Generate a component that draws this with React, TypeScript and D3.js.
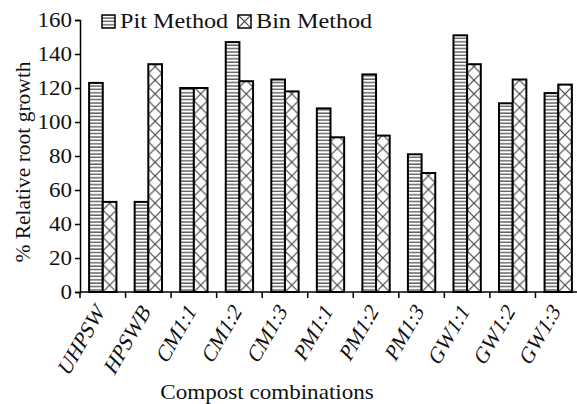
import { useEffect, useRef } from "react";
import * as d3 from "d3";

const categories = ["UHPSW", "HPSWB", "CM1:1", "CM1:2", "CM1:3", "PM1:1", "PM1:2", "PM1:3", "GW1:1", "GW1:2", "GW1:3"];
const pitMethod = [123, 53, 120, 147, 125, 108, 128, 81, 151, 111, 117];
const binMethod = [53, 134, 120, 124, 118, 91, 92, 70, 134, 125, 122];
const seriesNames = ["Pit Method", "Bin Method"];
const yTicks = [0, 20, 40, 60, 80, 100, 120, 140, 160];

const App = () => {
  const svgRef = useRef<SVGSVGElement | null>(null);

  useEffect(() => {
    const svg = d3.select(svgRef.current);
    svg.selectAll("*").remove();

    const width = 577;
    const height = 404;
    const left = 80;
    const right = 581;
    const top = 20;
    const bottom = 292;
    const font = "'Liberation Serif', 'Times New Roman', serif";
    const stretch = 1.15; // the picture is a little wider than tall

    const x = d3.scaleBand().domain(categories).range([left, right]).paddingInner(0.4).paddingOuter(0.2);
    const xSub = d3.scaleBand().domain(seriesNames).range([0, x.bandwidth()]);
    const y = d3.scaleLinear().domain([0, 160]).range([bottom, top]);

    svg.attr("width", width).attr("height", height);
    const defs = svg.append("defs");

    // horizontal lines pattern for Pit
    const hp = defs.append("pattern").attr("id", "hlines")
      .attr("patternUnits", "userSpaceOnUse").attr("width", 6).attr("height", 3.4);
    hp.append("rect").attr("width", 6).attr("height", 3.4).attr("fill", "#fff");
    hp.append("line").attr("x1", 0).attr("x2", 6).attr("y1", 1).attr("y2", 1)
      .attr("stroke", "#5e5e5e").attr("stroke-width", 1.4);

    // cross hatch pattern for Bin, one per bar so it lines up with the bar
    const rows = categories.map((c, i) => ({ c, pit: pitMethod[i], bin: binMethod[i] }));
    rows.forEach((d, i) => {
      const bx = (x(d.c) as number) + (xSub("Bin Method") as number);
      const w = xSub.bandwidth();
      const p = defs.append("pattern").attr("id", `xh${i}`)
        .attr("patternUnits", "userSpaceOnUse")
        .attr("x", bx).attr("y", bottom)
        .attr("width", w).attr("height", w);
      p.append("rect").attr("width", w).attr("height", w).attr("fill", "#fff");
      p.append("path").attr("d", `M0,0L${w},${w}M${w},0L0,${w}`)
        .attr("stroke", "#444").attr("stroke-width", 1.2).attr("fill", "none");
    });

    // bars
    const g = svg.append("g");
    rows.forEach((d, i) => {
      const gx = x(d.c) as number;
      g.append("rect")
        .attr("x", gx + (xSub("Pit Method") as number))
        .attr("y", y(d.pit))
        .attr("width", xSub.bandwidth())
        .attr("height", y(0) - y(d.pit))
        .attr("fill", "url(#hlines)")
        .attr("stroke", "#000").attr("stroke-width", 2);
      g.append("rect")
        .attr("x", gx + (xSub("Bin Method") as number))
        .attr("y", y(d.bin))
        .attr("width", xSub.bandwidth())
        .attr("height", y(0) - y(d.bin))
        .attr("fill", `url(#xh${i})`)
        .attr("stroke", "#000").attr("stroke-width", 2);
    });

    // y axis
    const yAxis = svg.append("g")
      .attr("transform", `translate(${left},0)`)
      .call(d3.axisLeft(y).tickValues(yTicks).tickSize(5).tickFormat(() => ""));
    yAxis.select(".domain").attr("stroke", "#000").attr("stroke-width", 1.5);
    yAxis.selectAll(".tick line").attr("stroke", "#000").attr("stroke-width", 1.5);
    yTicks.forEach((t) => {
      svg.append("text")
        .attr("transform", `translate(${left - 8},${y(t) + 7}) scale(${stretch},1)`)
        .attr("text-anchor", "end")
        .attr("font-family", font).attr("font-size", 20).attr("fill", "#111")
        .text(t);
    });

    // x axis with ticks at band boundaries
    svg.append("line").attr("x1", left).attr("x2", right).attr("y1", bottom).attr("y2", bottom)
      .attr("stroke", "#000").attr("stroke-width", 1.5);
    const step = x.step();
    categories.forEach((c, i) => {
      const tx = left + i * step;
      svg.append("line").attr("x1", tx).attr("x2", tx).attr("y1", bottom).attr("y2", bottom + 6)
        .attr("stroke", "#000").attr("stroke-width", 1.5);
    });
    categories.forEach((c) => {
      const cx = (x(c) as number) + x.bandwidth() / 2;
      svg.append("text")
        .attr("transform", `translate(${cx + 3},${bottom + 20}) rotate(-60) skewX(-14)`)
        .attr("text-anchor", "end")
        .attr("font-family", font).attr("font-size", 21.5)
        .attr("fill", "#111")
        .text(c);
    });

    // axis titles
    svg.append("text")
      .attr("transform", `translate(267,399) scale(1.1,1)`)
      .attr("text-anchor", "middle")
      .attr("font-family", font).attr("font-size", 21).attr("fill", "#111")
      .text("Compost combinations");

    svg.append("text")
      .attr("transform", `translate(30,162) rotate(-90)`)
      .attr("text-anchor", "middle")
      .attr("font-family", font).attr("font-size", 21.5).attr("fill", "#111")
      .text("% Relative root growth");

    // legend
    const legend = [
      { name: seriesNames[0], fill: "url(#hlines)", x: 102 },
      { name: seriesNames[1], fill: "url(#xhleg)", x: 238 },
    ];
    const lp = defs.append("pattern").attr("id", "xhleg").attr("patternUnits", "userSpaceOnUse")
      .attr("x", 238).attr("y", 15).attr("width", 13).attr("height", 13);
    lp.append("rect").attr("width", 13).attr("height", 13).attr("fill", "#fff");
    lp.append("path").attr("d", "M0,0L13,13M13,0L0,13").attr("stroke", "#444").attr("stroke-width", 1.2);
    legend.forEach((l) => {
      svg.append("rect").attr("x", l.x).attr("y", 15).attr("width", 13).attr("height", 13)
        .attr("fill", l.fill).attr("stroke", "#000").attr("stroke-width", 1.5);
      svg.append("text")
        .attr("transform", `translate(${l.x + 18},28) scale(1.1,1)`)
        .attr("font-family", font).attr("font-size", 22).attr("fill", "#111")
        .text(l.name);
    });
  }, []);

  return <svg ref={svgRef} style={{ position: "absolute", left: 0, top: 0 }}></svg>;
};

export default App;
